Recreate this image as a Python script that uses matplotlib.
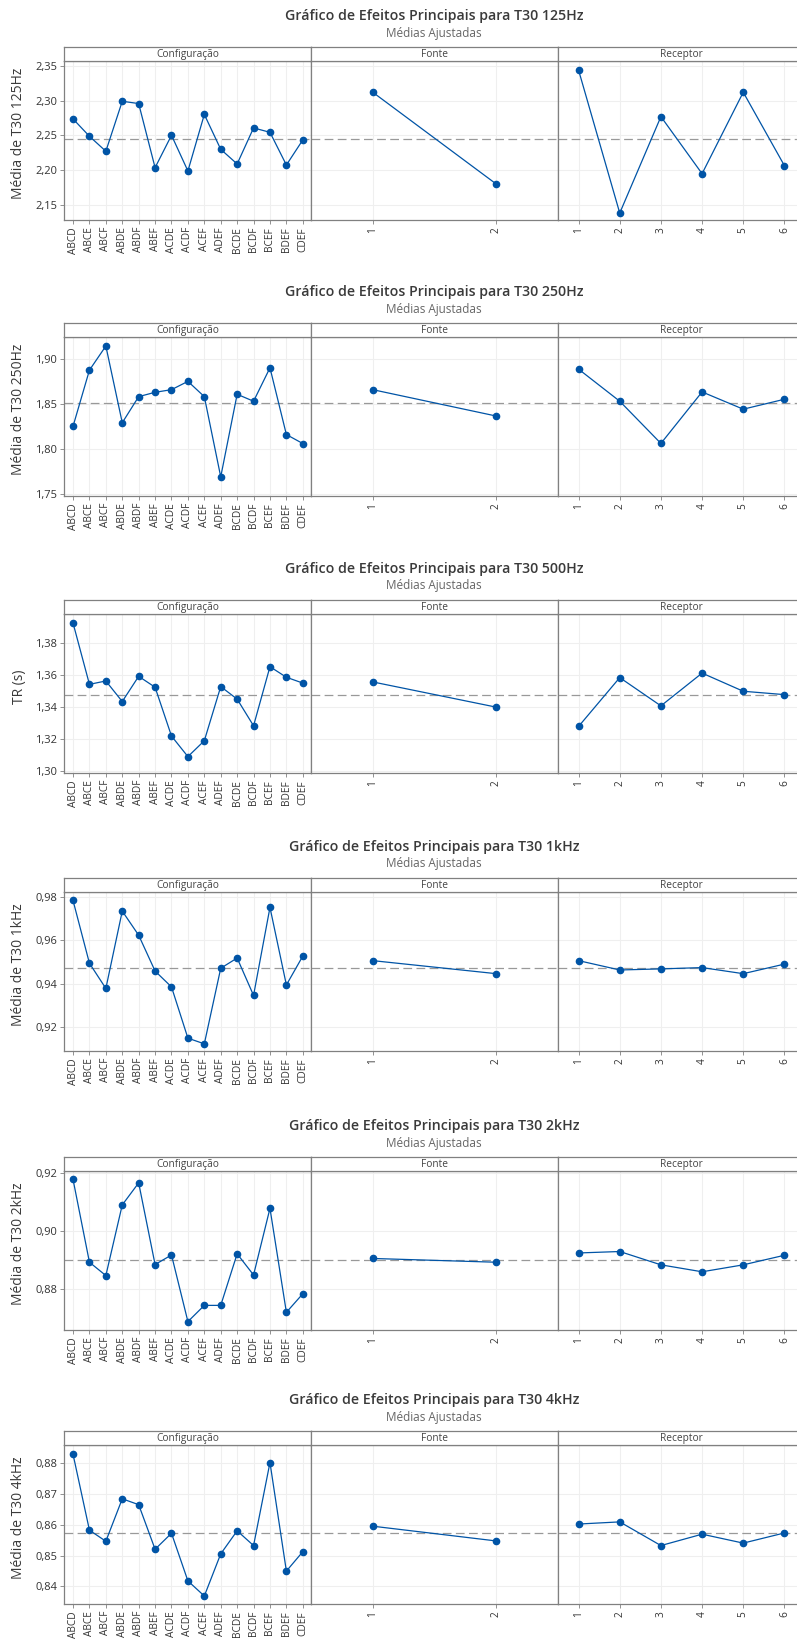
import numpy as np
import matplotlib
matplotlib.use("Agg")
import matplotlib.pyplot as plt
from matplotlib.ticker import FuncFormatter

plt.rcParams['font.family'] = ['Open Sans', 'DejaVu Sans']

W, H = 797, 1639

# dados
configs = ['ABCD', 'ABCE', 'ABCF', 'ABDE', 'ABDF', 'ABEF', 'ACDE', 'ACDF',
           'ACEF', 'ADEF', 'BCDE', 'BCDF', 'BCEF', 'BDEF', 'CDEF']
fontes = [1, 2]
receptores = [1, 2, 3, 4, 5, 6]

titulos = ['T30 125Hz', 'T30 250Hz', 'T30 500Hz', 'T30 1kHz', 'T30 2kHz', 'T30 4kHz']
ylabels = ['Média de T30 125Hz', 'Média de T30 250Hz', 'TR (s)',
           'Média de T30 1kHz', 'Média de T30 2kHz', 'Média de T30 4kHz']

conf_125 = [2.2736, 2.2486, 2.2270, 2.2990, 2.2957, 2.2034, 2.2500, 2.1986,
            2.2800, 2.2298, 2.2087, 2.2606, 2.2543, 2.2072, 2.2433]
conf_250 = [1.8251, 1.8873, 1.9140, 1.8291, 1.8580, 1.8628, 1.8657, 1.8749,
            1.8580, 1.7692, 1.8606, 1.8529, 1.8899, 1.8160, 1.8061]
conf_500 = [1.3924, 1.3542, 1.3563, 1.3435, 1.3592, 1.3524, 1.3220, 1.3092,
            1.3191, 1.3528, 1.3450, 1.3284, 1.3652, 1.3586, 1.3550]
conf_1k = [0.9783, 0.9494, 0.9378, 0.9734, 0.9623, 0.9458, 0.9385, 0.9149,
           0.9123, 0.9471, 0.9518, 0.9346, 0.9751, 0.9394, 0.9527]
conf_2k = [0.9178, 0.8892, 0.8846, 0.9090, 0.9166, 0.8884, 0.8917, 0.8687,
           0.8743, 0.8743, 0.8921, 0.8848, 0.9078, 0.8719, 0.8783]
conf_4k = [0.8830, 0.8583, 0.8547, 0.8685, 0.8666, 0.8521, 0.8573, 0.8418,
           0.8369, 0.8506, 0.8581, 0.8533, 0.8803, 0.8450, 0.8513]

fonte_125 = [2.3120, 2.1798]
fonte_250 = [1.8657, 1.8365]
fonte_500 = [1.3557, 1.3400]
fonte_1k = [0.9506, 0.9446]
fonte_2k = [0.8905, 0.8892]
fonte_4k = [0.8596, 0.8548]

rec_125 = [2.3438, 2.1380, 2.2769, 2.1947, 2.3120, 2.2063]
rec_250 = [1.8884, 1.8529, 1.8062, 1.8632, 1.8441, 1.8551]
rec_500 = [1.3280, 1.3584, 1.3408, 1.3612, 1.3499, 1.3478]
rec_1k = [0.9506, 0.9463, 0.9468, 0.9474, 0.9446, 0.9490]
rec_2k = [0.8924, 0.8929, 0.8883, 0.8859, 0.8883, 0.8916]
rec_4k = [0.8603, 0.8610, 0.8533, 0.8570, 0.8541, 0.8574]

media_geral = [2.2452, 1.8513, 1.3478, 0.9474, 0.8900, 0.8573]

conf_all = [conf_125, conf_250, conf_500, conf_1k, conf_2k, conf_4k]
fonte_all = [fonte_125, fonte_250, fonte_500, fonte_1k, fonte_2k, fonte_4k]
rec_all = [rec_125, rec_250, rec_500, rec_1k, rec_2k, rec_4k]

ylims = [(2.128, 2.357), (1.748, 1.924), (1.299, 1.398),
         (0.909, 0.9822), (0.8658, 0.9207), (0.8343, 0.886)]
yticks = [np.arange(2.15, 2.36, 0.05), np.arange(1.75, 1.91, 0.05),
          np.arange(1.30, 1.39, 0.02), np.arange(0.92, 0.99, 0.02),
          np.arange(0.88, 0.93, 0.02), np.arange(0.84, 0.885, 0.01)]

strip_tops = [47, 323, 600, 878, 1157, 1431]
STRIP_H = 14
PLOT_H = 159
cols_x = [64, 311, 558]
COL_W = 247

AZUL = '#0054a6'
CINZA = '#808080'


def frac(x0, y0, w, h):
    return [x0 / W, 1 - (y0 + h) / H, w / W, h / H]


fmt = FuncFormatter(lambda v, p: f"{v:.2f}".replace('.', ','))

fig = plt.figure(figsize=(W / 100, H / 100), dpi=100)

for i in range(6):
    top = strip_tops[i]
    dados = [conf_all[i], fonte_all[i], rec_all[i]]
    xs = [np.arange(len(configs)), fontes, receptores]
    xlabs = [configs, [str(f) for f in fontes], [str(r) for r in receptores]]
    xlims = [(-0.55, 14.5), (0.5, 2.5), (0.5, 6.5)]
    nomes = ['Configuração', 'Fonte', 'Receptor']

    fig.text(434 / W, 1 - (top - 31) / H, 'Gráfico de Efeitos Principais para ' + titulos[i],
             ha='center', va='center', fontsize=10.2, fontweight='semibold', color='#3a3a3a')
    fig.text(434 / W, 1 - (top - 14) / H, 'Médias Ajustadas',
             ha='center', va='center', fontsize=8.5, color='#666666')
    fig.text(19 / W, 1 - (top + (STRIP_H + PLOT_H) / 2) / H, ylabels[i],
             rotation=90, ha='center', va='center', fontsize=10, color='#3a3a3a')

    for j in range(3):
        ax = fig.add_axes(frac(cols_x[j], top + STRIP_H, COL_W, PLOT_H))
        ax.plot(xs[j], dados[j], '-o', color=AZUL, lw=0.9, ms=4.5, zorder=3)
        ax.axhline(media_geral[i], color='#999999', lw=0.9, ls=(0, (7, 3.5)), zorder=2)
        ax.set_xlim(*xlims[j])
        ax.set_ylim(*ylims[i])
        ax.set_yticks(yticks[i])
        ax.set_xticks(xs[j])
        ax.set_xticklabels(xlabs[j], rotation=90, fontsize=7.3, color='#333333')
        ax.grid(True, color='#efefef', lw=0.8, zorder=0)
        ax.set_axisbelow(True)
        for s in ax.spines.values():
            s.set_color(CINZA)
            s.set_linewidth(0.9)
        ax.tick_params(axis='x', length=3, width=0.6, color=CINZA, pad=2)
        if j == 0:
            ax.yaxis.set_major_formatter(fmt)
            ax.tick_params(axis='y', length=3, width=0.6, color=CINZA,
                           labelsize=8, labelcolor='#333333', pad=2)
        else:
            ax.tick_params(axis='y', length=0, labelleft=False)

        sax = fig.add_axes(frac(cols_x[j], top, COL_W, STRIP_H))
        sax.set_xticks([])
        sax.set_yticks([])
        for s in sax.spines.values():
            s.set_color(CINZA)
            s.set_linewidth(0.9)
        sax.text(0.5, 0.45, nomes[j], transform=sax.transAxes, ha='center', va='center',
                 fontsize=7.3, color='#444444')

fig.savefig('out.png', dpi=100)
